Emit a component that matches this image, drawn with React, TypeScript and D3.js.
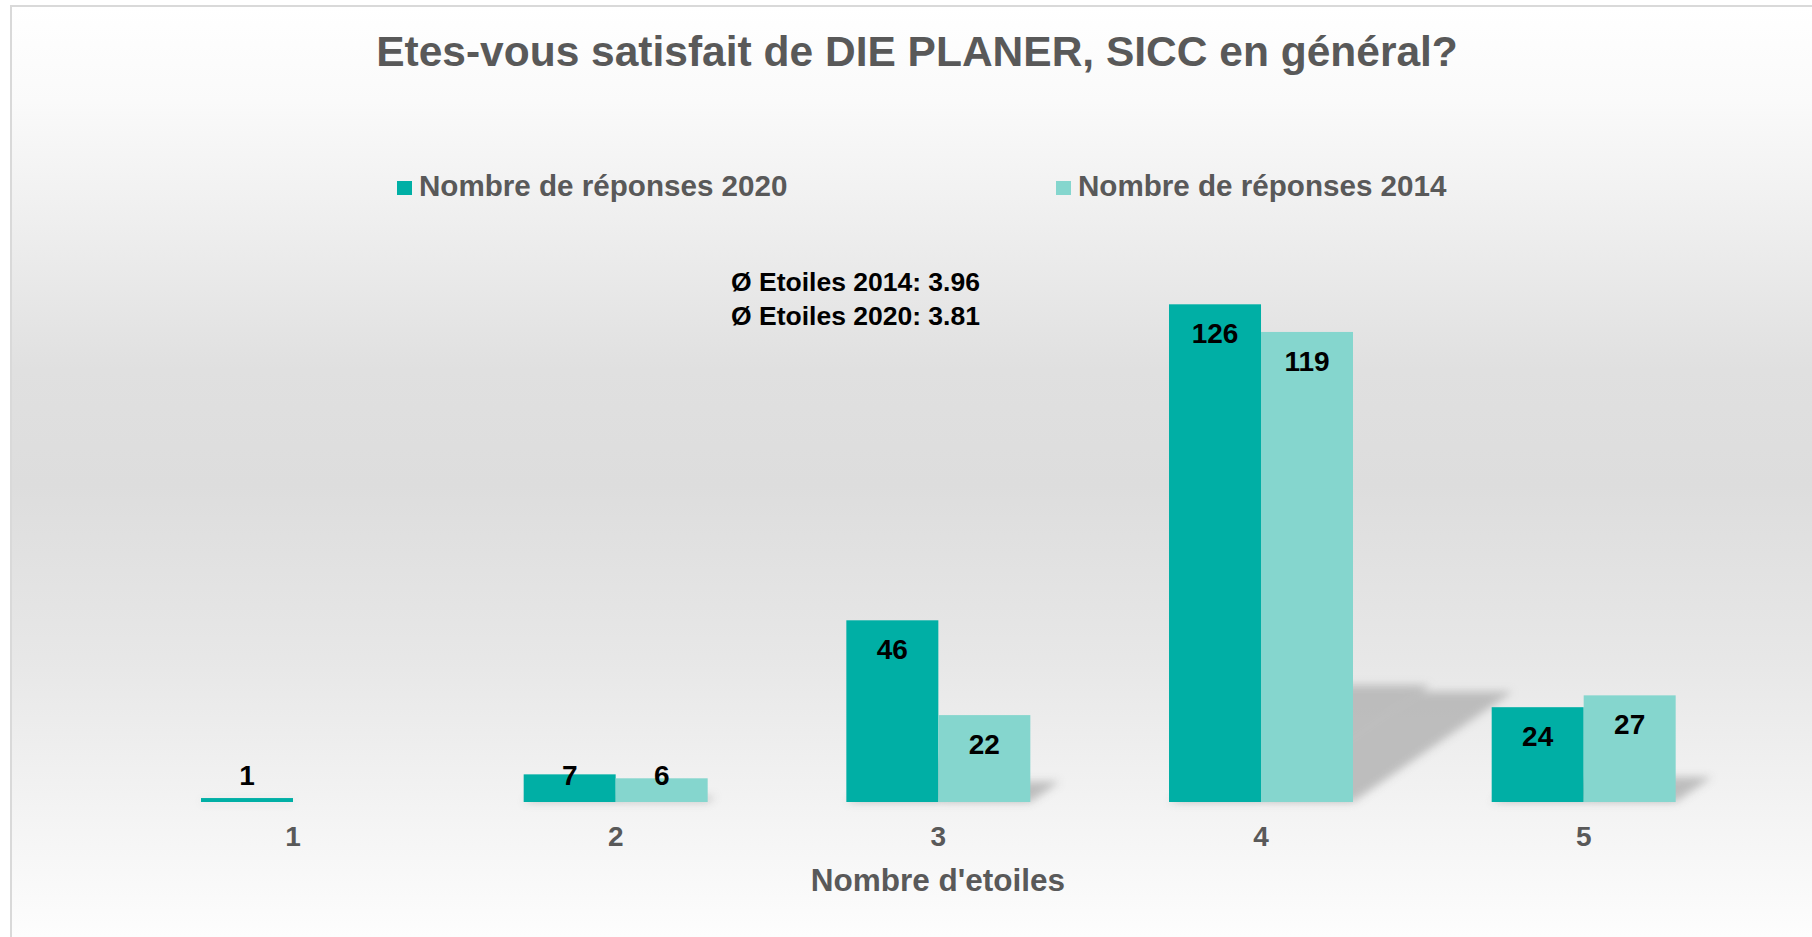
import React from "react";
import * as d3 from "d3";

const categories = ["1", "2", "3", "4", "5"];
const seriesNames = ["Nombre de réponses 2020", "Nombre de réponses 2014"];
const values2020 = [1, 7, 46, 126, 24];
const values2014 = [0, 6, 22, 119, 27];
const averageNotes = ["Ø Etoiles 2014: 3.96", "Ø Etoiles 2020: 3.81"];

const W = 1812;
const H = 937;
const FONT = "'Liberation Sans', Arial, Helvetica, sans-serif";
const colors = ["#00afa5", "#85d6ce"];
const grey = "#595959";

export default function App() {
  const base = 802;
  const step = 322.67;
  const x = d3
    .scaleBand()
    .domain(categories)
    .range([293 - step / 2, 293 - step / 2 + step * categories.length])
    .paddingInner(0.4298)
    .paddingOuter(0.4298 / 2);

  const xSub = d3.scaleBand().domain(["2020", "2014"]).range([0, x.bandwidth()]);

  const y = d3.scaleLinear().domain([0, 140]).range([base, base - 140 * 3.95]);

  const bars = categories.flatMap((c, i) => [
    { cat: c, key: "2020", value: values2020[i], color: colors[0] },
    { cat: c, key: "2014", value: values2014[i], color: colors[1] },
  ]);

  const shadowK = 0.235;
  const shadowS = 0.34;

  return (
    <div style={{ position: "absolute", left: 0, top: 0 }}>
      <svg width={W} height={H} style={{ display: "block", fontFamily: FONT }}>
        <defs>
          <linearGradient id="bg" x1="0" y1="0" x2="0" y2="1">
            <stop offset="0" stopColor="#ffffff" />
            <stop offset="0.1" stopColor="#fafafa" />
            <stop offset="0.2" stopColor="#f1f1f1" />
            <stop offset="0.38" stopColor="#e0e0e0" />
            <stop offset="0.5" stopColor="#dddddd" />
            <stop offset="0.68" stopColor="#e7e7e7" />
            <stop offset="0.85" stopColor="#f4f4f4" />
            <stop offset="1" stopColor="#ffffff" />
          </linearGradient>
          <filter id="blur" x="-20%" y="-20%" width="140%" height="140%">
            <feGaussianBlur stdDeviation="4" />
          </filter>
        </defs>

        <rect x={0} y={0} width={W} height={H} fill="#ffffff" />
        <rect x={11} y={6} width={W + 20} height={H + 20} fill="url(#bg)" stroke="#d9d9d9" strokeWidth={2} />

        <text x={917} y={66} textAnchor="middle" fontSize={42.5} fontWeight="bold" fill={grey}>
          Etes-vous satisfait de DIE PLANER, SICC en général?
        </text>

        {/* legend */}
        <g fontSize={29.6} fontWeight="bold" fill={grey}>
          <rect x={397} y={181} width={15} height={14} fill={colors[0]} />
          <text x={419} y={196}>{seriesNames[0]}</text>
          <rect x={1056} y={181} width={15} height={14} fill={colors[1]} />
          <text x={1078} y={196}>{seriesNames[1]}</text>
        </g>

        {/* shadows */}
        <g filter="url(#blur)" fill="#b8b8b8" opacity={0.9}>
          {bars
            .filter((b) => b.value > 0)
            .map((b, i) => {
              const x0 = (x(b.cat) as number) + (xSub(b.key) as number);
              const x1 = x0 + xSub.bandwidth();
              const h = base - y(b.value);
              const top = base - shadowK * h;
              const s = shadowS * h;
              return (
                <polygon
                  key={i}
                  points={`${x0},${base} ${x1},${base} ${x1 + s},${top} ${x0 + s},${top}`}
                />
              );
            })}
        </g>

        {/* bars */}
        {bars
          .filter((b) => b.value > 0)
          .map((b, i) => (
            <rect
              key={i}
              x={(x(b.cat) as number) + (xSub(b.key) as number)}
              y={y(b.value)}
              width={xSub.bandwidth()}
              height={base - y(b.value)}
              fill={b.color}
            />
          ))}

        {/* value labels */}
        <g fontSize={28} fontWeight="bold" fill="#000" textAnchor="middle">
          {bars
            .filter((b) => b.value > 0)
            .map((b, i) => {
              const cy = Math.min(y(b.value) + 29, base - 27);
              return (
                <text
                  key={i}
                  x={(x(b.cat) as number) + (xSub(b.key) as number) + xSub.bandwidth() / 2}
                  y={cy + 10}
                >
                  {b.value}
                </text>
              );
            })}
        </g>

        {/* axis tick labels */}
        <g fontSize={28} fontWeight="bold" fill={grey} textAnchor="middle">
          {categories.map((c) => (
            <text key={c} x={(x(c) as number) + x.bandwidth() / 2} y={846}>
              {c}
            </text>
          ))}
        </g>

        <text x={938} y={891} textAnchor="middle" fontSize={31.5} fontWeight="bold" fill={grey}>
          Nombre d'etoiles
        </text>

        {/* average notes */}
        <g fontSize={26.5} fontWeight="bold" fill="#000">
          {averageNotes.map((t, i) => (
            <text key={i} x={731} y={291 + i * 34}>
              {t}
            </text>
          ))}
        </g>
      </svg>
    </div>
  );
}
